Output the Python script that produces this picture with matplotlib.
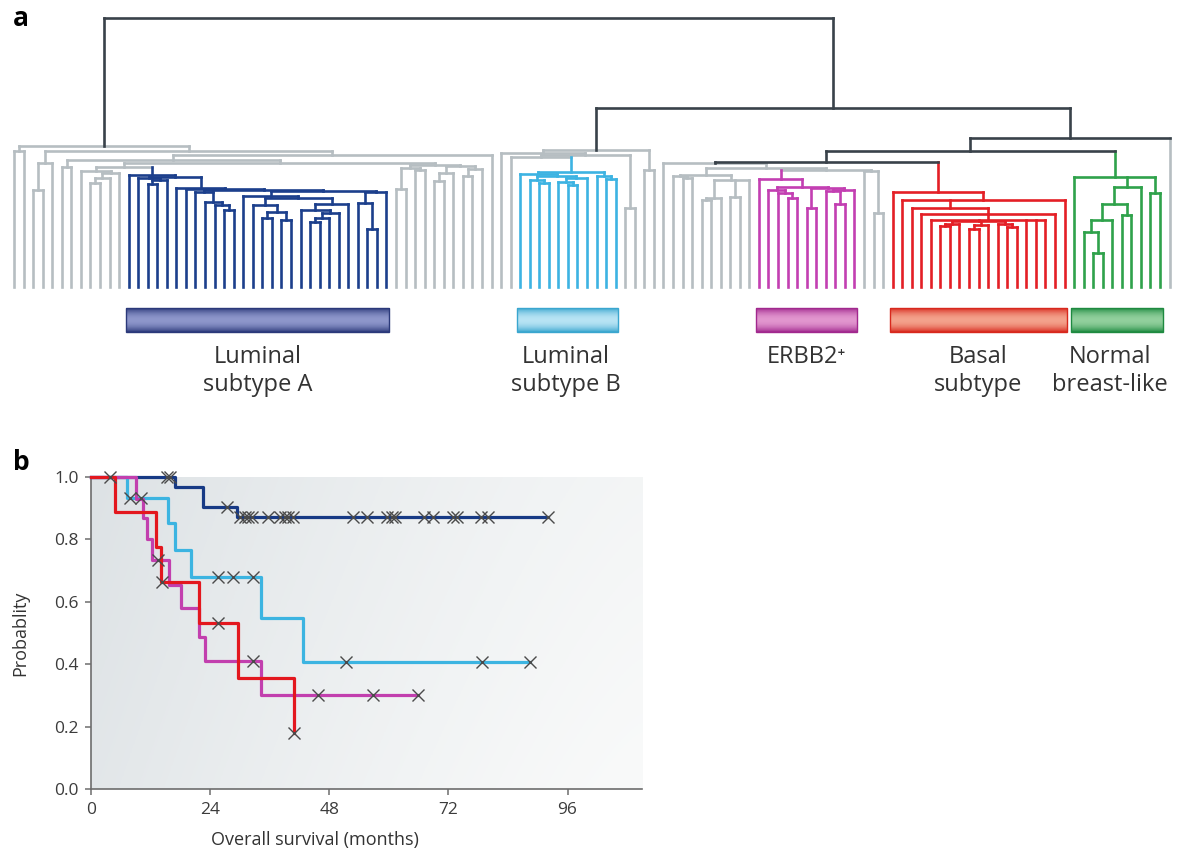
import numpy as np
import matplotlib
matplotlib.use('Agg')
import matplotlib.pyplot as plt
from matplotlib.collections import LineCollection
from matplotlib.patches import Rectangle
from matplotlib.colors import to_rgb

plt.rcParams['font.family'] = ['Open Sans', 'DejaVu Sans']

# ---- panel a: hierarchical clustering of 122 tumours ----
# nodes are (height, child, child, ...), leaves are sample positions 0..121
n_leaves = 122

blue_sub = (112, 12,
            (110, (109, 13, (107, (103, 14, 15), 16)),
             (99, 17, (98, 18, (97,
                                (95, 19, (85, 20, (82, 21, (77, 22, 23)))),
                                (96,
                                 (91, 24, (89, (82, 25, (75, (69, 26, 27), (67, 28, 29))),
                                           (83, (77, 30, (74, (69, (65, 31, 32), 33), 34)), 35))),
                                 (95, (84, 36, (58, 37, 38)), 39)))))))
left_tree = (141, (136, 0, 1),
             (136, (124, (97, 2, 3), 4),
              (132, (127, (120, 5, 6),
                     (124, (120, (116, 7, (114, (109, (104, 8, 9), 10), 11)), blue_sub),
                      (122, (119, (98, 40, 41), (117, 42, 43)),
                       (121, (114, (106, 44, 45), 46), (118, (111, 47, 48), 49))))),
               50)))
lumb_sub = (115, (113, 53, (111, (107, 54, (104, 55, 56)),
                             (109, (105, 57, (102, 58, 59)), 60))),
            (111, 61, (108, 62, 63)))
lumb_tree = (137, (134, 51, (132, (130, 52, lumb_sub), (79, 64, 65))), (117, 66, 67))
erbb_sub = (108, 78, (100, (97, 79, (94, 80, (89, 81, 82))),
                      (99, (79, 83, 84), (97, (96, 85, (83, 86, 87)), 88))))
erbb_tree = (124, 68, (119,
                       (112, (111, 69, (109, 70, 71)),
                        (107, (89, (87, 72, 73), 74), (90, 75, 76), 77)),
                       (117, erbb_sub, (116, 89, (74, 90, 91)))))
basal_sub = (95, 92, (87, 93, (79, 94, (73, 95,
                                        (67, 96, (66, (63, (61, 97, 98), 99),
                                                  (62, (58, 100, 101), 102),
                                                  (63, 103, (60, 104, 105))),
                                         106, 107, 108),
                                        109)), 110))
normal_sub = (110, 111, (100, (83, (67, (55, 112, (34, 113, 114)), 115), (72, 116, 117)), 118),
              (94, 119, 120))
tree = (269, left_tree, (179, lumb_tree, (149, (136, (125, erbb_tree, basal_sub), normal_sub), 121)))

group_names = ['Luminal\nsubtype A', 'Luminal\nsubtype B', 'ERBB2\u207a', 'Basal\nsubtype', 'Normal\nbreast-like']
group_first = [12, 53, 78, 92, 111]
group_last = [39, 63, 88, 110, 120]
group_line = ['#1c3f8c', '#3db3e2', '#c33fb2', '#e41f26', '#2fa24b']
bar_dark = ['#2b397a', '#3aa6cf', '#a1288e', '#d8281d', '#1e8a40']
bar_light = ['#8e97cb', '#b8e4f4', '#e296cf', '#f4a28c', '#92d09d']
label_shift = [0, -0.2, 0, 0, -0.7]

DARK = '#39424a'
GRAY = '#b6bec2'

# ---- panel b: overall survival by subtype ----
lumA_t = [0, 17.0, 22.5, 29.5]
lumA_s = [1.0, 0.968, 0.904, 0.872]
lumA_end = 92.0
lumA_cens = [15.3, 15.9, 27.4, 30.1, 31.1, 31.7, 32.5, 35.7, 38.1, 39.1, 39.7, 40.7,
             52.8, 55.7, 59.7, 60.7, 61.3, 67.0, 68.8, 73.0, 73.8, 78.5, 79.9, 92.0]

lumB_t = [0, 7.2, 15.5, 17.0, 20.2, 34.2, 42.8]
lumB_s = [1.0, 0.933, 0.853, 0.766, 0.68, 0.548, 0.407]
lumB_end = 88.5
lumB_cens = [7.9, 10.1, 25.6, 28.6, 32.7, 51.4, 78.7, 88.5]

erbb_t = [0, 9.0, 10.5, 11.2, 12.2, 15.7, 18.2, 21.7, 23.0, 34.2]
erbb_s = [1.0, 0.93, 0.867, 0.80, 0.733, 0.655, 0.58, 0.487, 0.41, 0.30]
erbb_end = 65.8
erbb_cens = [13.5, 32.7, 45.8, 56.9, 65.8]

basal_t = [0, 4.8, 13.0, 14.1, 21.8, 29.6, 40.8]
basal_s = [1.0, 0.888, 0.776, 0.663, 0.532, 0.356, 0.18]
basal_end = 40.8
basal_cens = [3.8, 14.3, 25.6, 40.8]

km_colors = ['#173a85', '#3cb4e1', '#c23fae', '#e3171e']


def group_of(leaf):
    for g in range(len(group_first)):
        if group_first[g] <= leaf <= group_last[g]:
            return g
    return None


def build(node, segs):
    if isinstance(node, int):
        g = group_of(node)
        col = group_line[g] if g is not None else GRAY
        return float(node), 0.0, {g}, col, True
    h = node[0]
    kids = [build(k, segs) for k in node[1:]]
    xs = [k[0] for k in kids]
    found = set().union(*[k[2] for k in kids])
    named = found - {None}
    if len(named) > 1:
        col = DARK
    elif len(named) == 1 and None not in found:
        col = group_line[next(iter(named))]
    else:
        col = GRAY
    segs.append(([(min(xs), h), (max(xs), h)], col))
    for kx, kh, _, kcol, leaf in kids:
        vcol = DARK if (col == DARK and kcol == GRAY and not leaf) else kcol
        segs.append(([(kx, kh), (kx, h)], vcol))
    return (min(xs) + max(xs)) / 2, h, found, col, False


def gradient_bar(ax, x0, x1, y0, y1, dark, light):
    t = np.linspace(0, 1, 40)
    p = np.sin(np.pi * t) ** 0.8
    d, l = np.array(to_rgb(dark)), np.array(to_rgb(light))
    img = (d[None, :] * (1 - p[:, None]) + l[None, :] * p[:, None])[:, None, :]
    ax.imshow(img, extent=[x0, x1, y0, y1], aspect='auto', zorder=2, interpolation='bilinear')
    ax.add_patch(Rectangle((x0, y0), x1 - x0, y1 - y0, fill=False, edgecolor=dark, lw=1.0, zorder=3))


def step_value(times, surv, t):
    idx = np.searchsorted(times, t, side='right') - 1
    return np.array(surv)[idx]


W, H = 1177, 856
fig = plt.figure(figsize=(W / 100, H / 100), dpi=100)

# dendrogram axes: leaf i sits at pixel 14 + 9.55 i, height 0 at pixel row 287
spacing = 9.55
left_px = 14 - spacing / 2
ax = fig.add_axes([left_px / W, (H - 407) / H, n_leaves * spacing / W, 390 / H])
segs = []
build(tree, segs)
for col, z in [(GRAY, 1), (None, 2), (DARK, 3)]:
    if col is None:
        chosen = [s for s in segs if s[1] not in (GRAY, DARK)]
    else:
        chosen = [s for s in segs if s[1] == col]
    lc = LineCollection([s[0] for s in chosen], colors=[s[1] for s in chosen],
                        linewidths=1.9, capstyle='projecting', zorder=z)
    ax.add_collection(lc)

for g in range(len(group_names)):
    x0, x1 = group_first[g] - 0.28, group_last[g] + 0.28
    gradient_bar(ax, x0, x1, -45, -21, bar_dark[g], bar_light[g])
    xc = (group_first[g] + group_last[g]) / 2 + label_shift[g]
    yc = -70 if '\n' not in group_names[g] else -84
    ax.text(xc, yc, group_names[g], ha='center', va='center', ma='center',
            fontsize=17, color='#333333', linespacing=1.2)
ax.set_xlim(-0.5, n_leaves - 0.5)
ax.set_ylim(-120, 270)
ax.axis('off')

fig.text(21 / W, 1 - 18 / H, 'a', fontsize=19, fontweight='bold', ha='center', va='center')
fig.text(21 / W, 1 - 462 / H, 'b', fontsize=19, fontweight='bold', ha='center', va='center')

# survival axes
ax2 = fig.add_axes([91 / W, (H - 789) / H, (642 - 91) / W, (789 - 477) / H])
gx, gy = np.meshgrid(np.linspace(0, 1, 200), np.linspace(1, 0, 120))
mix = np.clip(0.8 * (1 - gx) ** 1.3 + 0.2 * gy, 0, 1)
c_hi, c_lo = np.array(to_rgb('#f9fafa')), np.array(to_rgb('#dde2e5'))
bg = c_hi[None, None, :] * (1 - mix[..., None]) + c_lo[None, None, :] * mix[..., None]
ax2.imshow(bg, extent=[0, 1, 0, 1], transform=ax2.transAxes, aspect='auto', zorder=0)

curves = [(lumA_t, lumA_s, lumA_end, lumA_cens),
          (lumB_t, lumB_s, lumB_end, lumB_cens),
          (erbb_t, erbb_s, erbb_end, erbb_cens),
          (basal_t, basal_s, basal_end, basal_cens)]
for (t, s, end, cens), col in zip(curves, km_colors):
    ax2.plot(list(t) + [end], list(s) + [s[-1]], drawstyle='steps-post', color=col,
             lw=2.3, clip_on=False, zorder=3)
for (t, s, end, cens), col in zip(curves, km_colors):
    ax2.plot(cens, step_value(t, s, cens), 'x', ms=8.5, mew=1.0, color='#4a4a4a',
             clip_on=False, zorder=5)

ax2.set_xlim(0, 111)
ax2.set_ylim(0, 1.0)
ax2.set_xticks([0, 24, 48, 72, 96])
ax2.set_yticks([0.0, 0.2, 0.4, 0.6, 0.8, 1.0])
ax2.set_yticklabels(['0.0', '0.2', '0.4', '0.6', '0.8', '1.0'])
for side in ['top', 'right']:
    ax2.spines[side].set_visible(False)
for side in ['left', 'bottom']:
    ax2.spines[side].set_color('#6d6d6d')
    ax2.spines[side].set_linewidth(1.2)
ax2.tick_params(direction='out', length=4, width=1.1, color='#6d6d6d',
                labelsize=12.5, labelcolor='#3c3c3c', pad=5)
ax2.set_xlabel('Overall survival (months)', fontsize=13, color='#333333')
ax2.set_ylabel('Probablity', fontsize=13, color='#333333')
ax2.xaxis.set_label_coords((315 - 91) / 551, -(831 - 789) / 312)
ax2.yaxis.set_label_coords(-(91 - 29) / 551, 0.5)

fig.savefig('out.png', dpi=100)
